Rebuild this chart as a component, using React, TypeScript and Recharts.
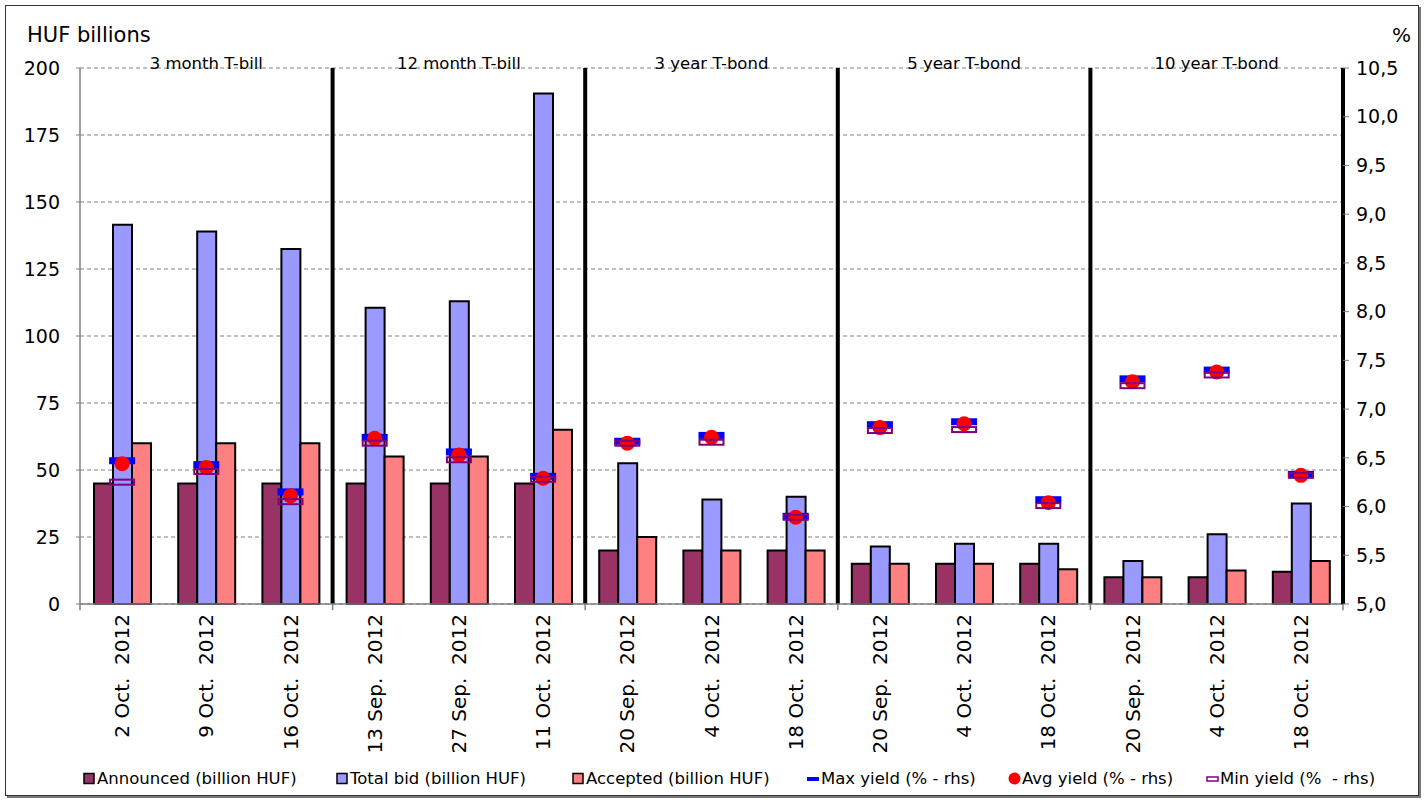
import React from 'react';
import {
  ComposedChart,
  Bar,
  Scatter,
  XAxis,
  YAxis,
  CartesianGrid,
  ReferenceLine,
  ReferenceArea,
  Legend,
} from 'recharts';

const categories = [
  '2 Oct.  2012', '9 Oct.  2012', '16 Oct.  2012',
  '13 Sep.  2012', '27 Sep.  2012', '11 Oct.  2012',
  '20 Sep.  2012', '4 Oct.  2012', '18 Oct.  2012',
  '20 Sep.  2012', '4 Oct.  2012', '18 Oct.  2012',
  '20 Sep.  2012', '4 Oct.  2012', '18 Oct.  2012',
];
const announced = [45, 45, 45, 45, 45, 45, 20, 20, 20, 15, 15, 15, 10, 10, 12];
const totalBid = [141.5, 139, 132.5, 110.5, 113, 190.5, 52.5, 39, 40, 21.5, 22.5, 22.5, 16, 26, 37.5];
const accepted = [60, 60, 60, 55, 55, 65, 25, 20, 20, 15, 15, 13, 10, 12.5, 16];
const maxYield = [6.47, 6.43, 6.15, 6.71, 6.56, 6.31, 6.67, 6.73, 5.9, 6.84, 6.87, 6.07, 7.31, 7.4, 6.33];
const avgYield = [6.44, 6.4, 6.11, 6.7, 6.53, 6.29, 6.65, 6.71, 5.89, 6.81, 6.85, 6.04, 7.28, 7.38, 6.32];
const minYield = [6.25, 6.36, 6.05, 6.65, 6.48, 6.28, 6.65, 6.66, 5.89, 6.78, 6.79, 6.01, 7.24, 7.35, 6.32];
const groupLabels = ['3 month T-bill', '12 month T-bill', '3 year T-bond', '5 year T-bond', '10 year T-bond'];
const groupSize = 3;
const leftTicks = [0, 25, 50, 75, 100, 125, 150, 175, 200];
const rightTicks = [5, 5.5, 6, 6.5, 7, 7.5, 8, 8.5, 9, 9.5, 10, 10.5];

const COLORS = {
  announced: '#993366',
  total: '#9999FF',
  accepted: '#FF8080',
  max: '#0000FF',
  avg: '#FF0000',
  min: '#800080',
  grid: '#808080',
};

const data = categories.map((name, i) => ({
  key: String(i),
  name,
  announced: announced[i],
  total: totalBid[i],
  accepted: accepted[i],
  max: maxYield[i],
  avg: avgYield[i],
  min: minYield[i],
}));

const FONT = 'DejaVu Sans, Verdana, sans-serif';

const XTick = (props: any) => {
  const { x, y, payload } = props;
  const label = categories[Number(payload.value)] ?? '';
  return (
    <text
      x={x}
      y={y}
      transform={`rotate(-90 ${x} ${y})`}
      textAnchor="end"
      dominantBaseline="central"
      fontSize={20}
      fontFamily={FONT}
      fill="#000"
      style={{ whiteSpace: 'pre' }}
    >
      {label}
    </text>
  );
};

const MaxShape = (p: any) =>
  p.cx == null ? null : <rect x={p.cx - 13} y={p.cy - 3.5} width={26} height={7} fill={COLORS.max} />;
const AvgShape = (p: any) =>
  p.cx == null ? null : <circle cx={p.cx} cy={p.cy} r={7.5} fill={COLORS.avg} />;
const MinShape = (p: any) =>
  p.cx == null ? null : (
    <rect x={p.cx - 12} y={p.cy - 2.5} width={24} height={5} fill="none" stroke={COLORS.min} strokeWidth={2} />
  );

const legendItems = [
  { label: 'Announced (billion HUF)', kind: 'box', color: COLORS.announced, left: 83 },
  { label: 'Total bid (billion HUF)', kind: 'box', color: COLORS.total, left: 336 },
  { label: 'Accepted (billion HUF)', kind: 'box', color: COLORS.accepted, left: 572 },
  { label: 'Max yield (% - rhs)', kind: 'dash', color: COLORS.max, left: 807 },
  { label: 'Avg yield (% - rhs)', kind: 'dot', color: COLORS.avg, left: 1008 },
  { label: 'Min yield (%  - rhs)', kind: 'hollow', color: COLORS.min, left: 1206 },
];

const LegendContent = () => (
  <div style={{ position: 'relative', width: 1427, height: 24, fontFamily: FONT, fontSize: 16.5 }}>
    {legendItems.map((it) => (
      <div
        key={it.label}
        style={{
          position: 'absolute',
          left: it.left,
          top: 0,
          height: 24,
          display: 'flex',
          alignItems: 'center',
          whiteSpace: 'pre',
          color: '#000',
        }}
      >
        <svg width={13} height={13} style={{ marginRight: 1 }}>
          {it.kind === 'box' && (
            <rect x={1} y={1.5} width={10} height={10} fill={it.color} stroke="#000" strokeWidth={1.5} />
          )}
          {it.kind === 'dash' && <rect x={0} y={5} width={12} height={4} fill={it.color} />}
          {it.kind === 'dot' && <circle cx={6.5} cy={6.5} r={6} fill={it.color} />}
          {it.kind === 'hollow' && (
            <rect x={1} y={5} width={11} height={4} fill="none" stroke={it.color} strokeWidth={1.5} />
          )}
        </svg>
        <span>{it.label}</span>
      </div>
    ))}
  </div>
);

const sepIndices = [1, 2, 3, 4].map((g) => g * groupSize - 1);
const tickEnds = [0, 1, 2, 3, 4, 5].map((g) => Math.max(0, g * groupSize - 1));

export default function App() {
  return (
    <div style={{ position: 'absolute', left: 0, top: 0, width: 1427, height: 800, background: '#fff' }}>
      <div
        style={{
          position: 'absolute',
          left: 5,
          top: 5,
          width: 1412,
          height: 789,
          border: '1px solid #333',
          boxShadow: '2px 2px 0 #777',
        }}
      />
      <ComposedChart
        width={1427}
        height={800}
        data={data}
        margin={{ top: 68, right: 0, left: 0, bottom: 0 }}
        barGap={0}
        style={{ position: 'absolute', left: 0, top: 0 }}
      >
        <CartesianGrid
          yAxisId="left"
          vertical={false}
          stroke={COLORS.grid}
          strokeDasharray="4 3"
        />
        <XAxis
          dataKey="key"
          height={196}
          interval={0}
          tickLine={false}
          tickMargin={4}
          axisLine={{ stroke: COLORS.grid, strokeWidth: 1.5 }}
          tick={<XTick />}
        />
        <YAxis
          yAxisId="left"
          width={80}
          domain={[0, 200]}
          ticks={leftTicks}
          interval={0}
          tickSize={4}
          tickMargin={16}
          axisLine={{ stroke: COLORS.grid, strokeWidth: 1.5 }}
          tickLine={{ stroke: COLORS.grid }}
          tick={{ fontSize: 19, fill: '#000', fontFamily: FONT }}
        />
        <YAxis
          yAxisId="right"
          orientation="right"
          width={84}
          domain={[5, 10.5]}
          ticks={rightTicks}
          interval={0}
          tickSize={6}
          tickMargin={7}
          axisLine={{ stroke: '#000', strokeWidth: 4 }}
          tickLine={{ stroke: COLORS.grid }}
          tickFormatter={(v: number) => v.toFixed(1).replace('.', ',')}
          tick={{ fontSize: 19, fill: '#000', fontFamily: FONT }}
        />
        {groupLabels.map((g, i) => (
          <ReferenceArea
            key={g}
            yAxisId="left"
            x1={String(i * groupSize)}
            x2={String((i + 1) * groupSize - 1)}
            y1={0}
            y2={200}
            fill="none"
            fillOpacity={0}
            stroke="none"
            label={{ value: g, position: 'insideTop', offset: -11, fill: '#000', fontSize: 16.5, fontFamily: FONT }}
          />
        ))}
        {sepIndices.map((idx) => (
          <ReferenceLine
            key={'sep' + idx}
            yAxisId="left"
            x={String(idx)}
            position="end"
            stroke="#000"
            strokeWidth={4}
          />
        ))}
        {tickEnds.map((idx, k) => (
          <ReferenceLine
            key={'tick' + k}
            yAxisId="left"
            ifOverflow="visible"
            position={k === 0 ? 'start' : 'end'}
            segment={[
              { x: String(idx), y: 0 },
              { x: String(idx), y: -2.3 },
            ]}
            stroke={COLORS.grid}
            strokeWidth={1.5}
          />
        ))}
        <Bar yAxisId="left" dataKey="announced" barSize={19} fill={COLORS.announced} stroke="#000" strokeWidth={2} isAnimationActive={false} />
        <Bar yAxisId="left" dataKey="total" barSize={19} fill={COLORS.total} stroke="#000" strokeWidth={2} isAnimationActive={false} />
        <Bar yAxisId="left" dataKey="accepted" barSize={19} fill={COLORS.accepted} stroke="#000" strokeWidth={2} isAnimationActive={false} />
        <Scatter yAxisId="right" dataKey="max" shape={MaxShape} isAnimationActive={false} />
        <Scatter yAxisId="right" dataKey="avg" shape={AvgShape} isAnimationActive={false} />
        <Scatter yAxisId="right" dataKey="min" shape={MinShape} isAnimationActive={false} />
        <Legend
          layout="horizontal"
          verticalAlign="middle"
          align="center"
          content={<LegendContent />}
          wrapperStyle={{ top: 766, left: 0, width: 1427, height: 24 }}
        />
      </ComposedChart>
      <div
        style={{
          position: 'absolute',
          left: 27,
          top: 23,
          fontFamily: FONT,
          fontSize: 21,
          color: '#000',
          whiteSpace: 'pre',
        }}
      >
        HUF billions
      </div>
      <div
        style={{
          position: 'absolute',
          left: 1392,
          top: 23,
          fontFamily: FONT,
          fontSize: 20,
          color: '#000',
        }}
      >
        %
      </div>
    </div>
  );
}
